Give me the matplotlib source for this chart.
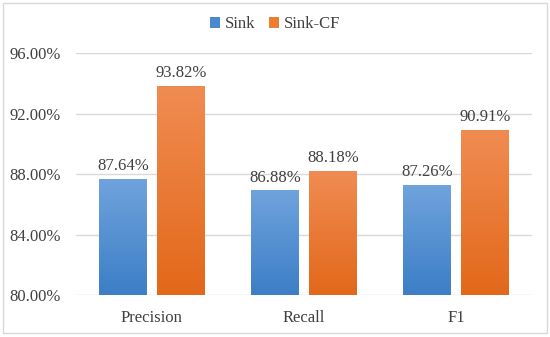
import numpy as np
import matplotlib
matplotlib.use("Agg")
import matplotlib.pyplot as plt
from matplotlib.patches import Rectangle, Patch
from matplotlib.colors import LinearSegmentedColormap

categories = ["Precision", "Recall", "F1"]
sink = [87.64, 86.88, 87.26]
sink_cf = [93.82, 88.18, 90.91]
series_names = ["Sink", "Sink-CF"]
yticks = [80, 84, 88, 92, 96]

plt.rcParams['font.family'] = ['Liberation Serif', 'DejaVu Serif']
txt = "#404040"
fs = 12

fig = plt.figure(figsize=(5.5, 3.37), dpi=100)
ax = fig.add_axes([0.138, 0.1246, 0.829, 0.718])

x = np.arange(len(categories))
w = 0.31
gap = 0.07
blue_cm = LinearSegmentedColormap.from_list("b", ["#3D7EC6", "#6FA3DD"])
orange_cm = LinearSegmentedColormap.from_list("o", ["#E2681A", "#F08C52"])

grad = np.linspace(0, 1, 256).reshape(-1, 1)

def gbar(xc, val, cmap):
    left = xc - w / 2
    ax.imshow(grad, cmap=cmap, origin="lower", aspect="auto",
              extent=[left, left + w, 80, val], zorder=2)

for i in range(len(categories)):
    xb = x[i] - (w + gap) / 2
    xo = x[i] + (w + gap) / 2
    gbar(xb, sink[i], blue_cm)
    gbar(xo, sink_cf[i], orange_cm)
    ax.text(xb, sink[i] + 0.35, f"{sink[i]:.2f}%", ha="center", va="bottom",
            fontsize=fs, color=txt)
    ax.text(xo, sink_cf[i] + 0.35, f"{sink_cf[i]:.2f}%", ha="center", va="bottom",
            fontsize=fs, color=txt)

ax.set_xlim(-0.5, 2.5)
ax.set_ylim(80, 96)
ax.set_yticks(yticks)
ax.set_yticklabels([f"{t:.2f}%" for t in yticks])
ax.set_xticks(x)
ax.set_xticklabels(categories)
ax.tick_params(axis="both", length=0, labelsize=fs, colors=txt)
ax.tick_params(axis="y", pad=11)
ax.tick_params(axis="x", pad=11)
ax.grid(axis="y", color="#D9D9D9", linewidth=1, zorder=0)
ax.set_axisbelow(True)
for s in ax.spines.values():
    s.set_visible(False)

handles = [Patch(facecolor="#4A89D0"), Patch(facecolor="#ED7D31")]
fig.legend(handles, series_names, loc="center", bbox_to_anchor=(0.5, 0.928),
           ncol=2, frameon=False, fontsize=fs, labelcolor=txt,
           handlelength=0.6, handleheight=0.6, handletextpad=0.3, columnspacing=0.8)

fig.patches.append(Rectangle((0.006, 0.012), 0.988, 0.978, transform=fig.transFigure,
                             facecolor="none", edgecolor="#D9D9D9", linewidth=1))

fig.savefig("out.png", dpi=100)
